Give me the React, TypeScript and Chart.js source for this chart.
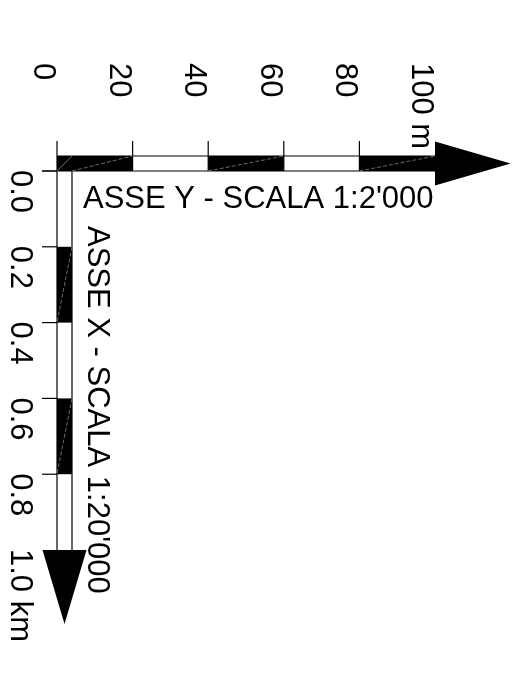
import React, { useEffect, useRef } from "react";
import { Chart, registerables } from "chart.js";

Chart.register(...registerables);

// ---- data ----
const meterTicks = [0, 20, 40, 60, 80, 100];
const meterTickLabels = ["0", "20", "40", "60", "80", "100 m"];
const meterSegmentFilled = [true, false, true, false, true];
const meterArrowTip = 120;
const meterTitle = "ASSE Y - SCALA 1:2'000";

const kmTicks = [0, 0.2, 0.4, 0.6, 0.8, 1.0];
const kmTickLabels = ["0.0", "0.2", "0.4", "0.6", "0.8", "1.0 km"];
const kmSegmentFilled = [false, true, false, true, false];
const kmArrowTip = 1.195;
const kmTitle = "ASSE X - SCALA 1:20'000";

// ---- layout ----
const W = 519;
const H = 688;
const X_MIN = -15.08;
const X_MAX = 122.22;
const Y_MIN = -0.4512;
const Y_MAX = 1.3641;
const BAR = 15;
const TICK = 15;
const ARROW_HALF = 22;
const FONT = '31px "Liberation Sans", Arial, sans-serif';

const scaleBarPlugin = {
  id: "scaleBars",
  afterDraw(chart: any) {
    const ctx: CanvasRenderingContext2D = chart.ctx;
    const xs = chart.scales.x;
    const ys = chart.scales.y;
    const px = (v: number) => xs.getPixelForValue(v);
    const py = (v: number) => ys.getPixelForValue(v);
    const x0 = px(0);
    const y0 = py(0);
    const mEnd = px(meterTicks[meterTicks.length - 1]);
    const kEnd = py(kmTicks[kmTicks.length - 1]);

    ctx.save();
    ctx.fillStyle = "#000";
    ctx.strokeStyle = "#000";
    ctx.lineWidth = 1.2;

    // horizontal (meters) bar
    const top = y0 - BAR;
    for (let i = 0; i < meterSegmentFilled.length; i++) {
      if (!meterSegmentFilled[i]) continue;
      const a = px(meterTicks[i]);
      const b = px(meterTicks[i + 1]);
      ctx.fillRect(a, top, b - a, BAR);
    }
    // vertical (km) bar
    for (let i = 0; i < kmSegmentFilled.length; i++) {
      if (!kmSegmentFilled[i]) continue;
      const a = py(kmTicks[i]);
      const b = py(kmTicks[i + 1]);
      ctx.fillRect(x0, a, BAR, b - a);
    }

    const line = (ax: number, ay: number, bx: number, by: number) => {
      ctx.beginPath();
      ctx.moveTo(ax, ay);
      ctx.lineTo(bx, by);
      ctx.stroke();
    };

    // meter bar outlines + ticks
    line(x0, top, mEnd, top);
    line(x0 - TICK, y0, mEnd, y0);
    for (let i = 0; i < meterTicks.length - 1; i++) {
      const x = px(meterTicks[i]);
      line(x, top - TICK, x, y0);
    }
    // km bar outlines + ticks
    line(x0, y0, x0, kEnd);
    line(x0 + BAR, top, x0 + BAR, kEnd);
    for (let i = 0; i < kmTicks.length - 1; i++) {
      const y = py(kmTicks[i]);
      line(x0 - TICK, y, x0, y);
    }

    // arrowheads
    const hc = y0 - BAR / 2;
    ctx.beginPath();
    ctx.moveTo(mEnd, hc - ARROW_HALF);
    ctx.lineTo(px(meterArrowTip), hc);
    ctx.lineTo(mEnd, hc + ARROW_HALF);
    ctx.closePath();
    ctx.fill();
    const vc = x0 + BAR / 2;
    ctx.beginPath();
    ctx.moveTo(vc - ARROW_HALF, kEnd);
    ctx.lineTo(vc, py(kmArrowTip));
    ctx.lineTo(vc + ARROW_HALF, kEnd);
    ctx.closePath();
    ctx.fill();

    // faint diagonals inside the filled segments
    ctx.strokeStyle = "rgba(200,200,200,0.9)";
    ctx.lineWidth = 0.6;
    line(x0, y0, x0 + BAR, top);
    ctx.setLineDash([4, 2]);
    for (let i = 0; i < meterSegmentFilled.length; i++) {
      if (!meterSegmentFilled[i]) continue;
      const a = Math.max(px(meterTicks[i]), x0 + BAR);
      const b = px(meterTicks[i + 1]);
      line(a, y0, b, top);
    }
    for (let i = 0; i < kmSegmentFilled.length; i++) {
      if (!kmSegmentFilled[i]) continue;
      const a = py(kmTicks[i]);
      const b = py(kmTicks[i + 1]);
      line(x0 + BAR, a, x0, b);
    }
    ctx.setLineDash([]);

    // text
    ctx.fillStyle = "#000";
    ctx.font = FONT;
    ctx.textAlign = "left";
    ctx.textBaseline = "alphabetic";
    const rotText = (t: string, x: number, y: number) => {
      ctx.save();
      ctx.translate(x, y);
      ctx.rotate(Math.PI / 2);
      ctx.fillText(t, 0, 0);
      ctx.restore();
    };
    meterTicks.forEach((t, i) => {
      rotText(meterTickLabels[i], px(t) - 23, y0 - 108);
    });
    kmTicks.forEach((t, i) => {
      rotText(kmTickLabels[i], x0 - 46, py(t) - 1);
    });
    ctx.fillText(meterTitle, x0 + 26, y0 + 37);
    rotText(kmTitle, x0 + 31, y0 + 55);

    ctx.restore();
  },
};

export default function App() {
  const ref = useRef<HTMLCanvasElement | null>(null);
  useEffect(() => {
    if (!ref.current) return;
    const chart = new Chart(ref.current, {
      type: "scatter",
      data: { datasets: [{ data: [], pointRadius: 0 }] },
      options: {
        animation: false,
        responsive: false,
        events: [],
        layout: { padding: 0 },
        plugins: { legend: { display: false }, tooltip: { enabled: false }, title: { display: false } },
        scales: {
          x: { type: "linear", min: X_MIN, max: X_MAX, display: false },
          y: { type: "linear", min: Y_MIN, max: Y_MAX, reverse: true, display: false },
        },
      },
      plugins: [scaleBarPlugin],
    });
    return () => chart.destroy();
  }, []);
  return (
    <div style={{ position: "fixed", left: 0, top: 0, width: W, height: H, background: "#fff" }}>
      <canvas ref={ref} width={W} height={H} style={{ width: W, height: H, display: "block" }} />
    </div>
  );
}
